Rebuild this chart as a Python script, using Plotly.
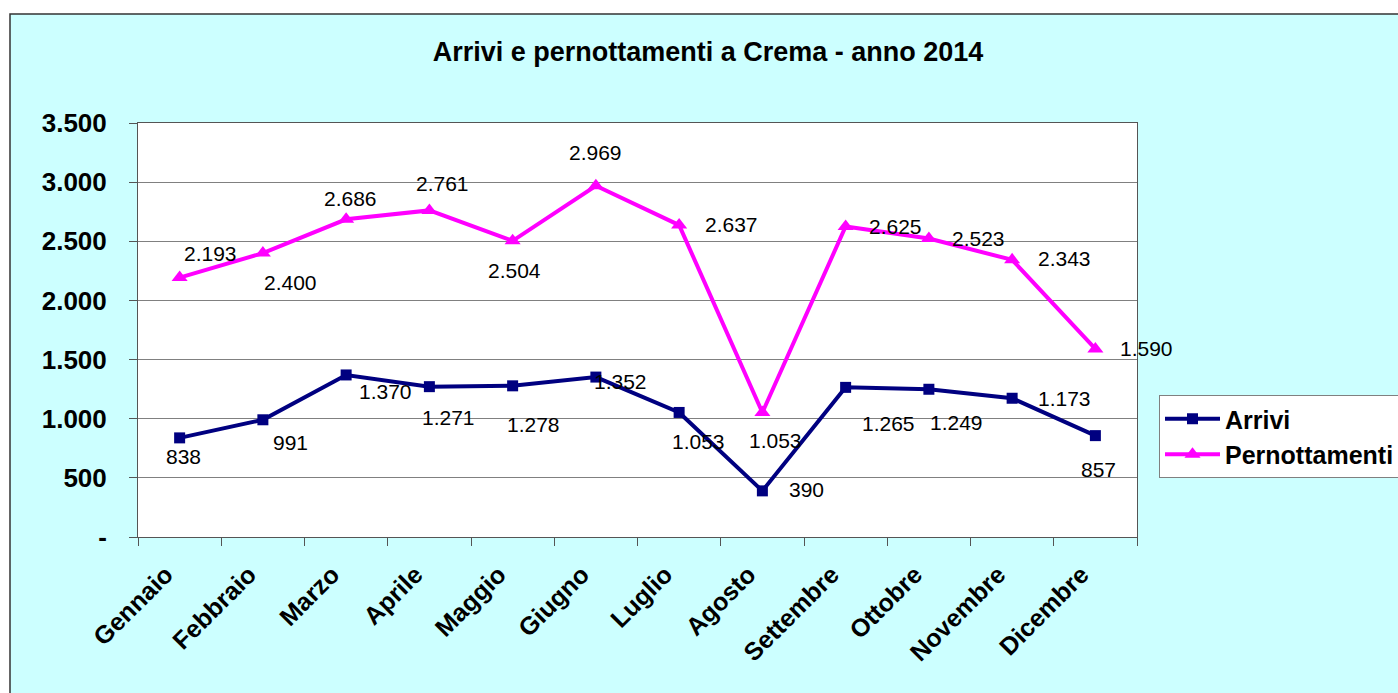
import plotly.graph_objects as go

months = ["Gennaio", "Febbraio", "Marzo", "Aprile", "Maggio", "Giugno",
          "Luglio", "Agosto", "Settembre", "Ottobre", "Novembre", "Dicembre"]
arrivi = [838, 991, 1370, 1271, 1278, 1352, 1053, 390, 1265, 1249, 1173, 857]
pernottamenti = [2193, 2400, 2686, 2761, 2504, 2969, 2637, 1053, 2625, 2523, 2343, 1590]
y_tickvals = [0, 500, 1000, 1500, 2000, 2500, 3000, 3500]
y_ticktext = ["-", "500", "1.000", "1.500", "2.000", "2.500", "3.000", "3.500"]

# label pixel offsets (style only)
arr_off = [(4, -19), (28, -23), (39, -17), (19, -31), (21, -39), (25, -4),
           (19, -29), (44, 1), (43, -36), (28, -33), (52, 0), (3, -34)]
per_off = [(31, 24), (28, -29), (4, 21), (13, 27), (2, -30), (0, 33),
           (52, 1), (13, -28), (50, 0), (50, 0), (52, 1), (51, 0)]

FONT = "Arial, Liberation Sans, sans-serif"

def fmt(v):
    return f"{v:,}".replace(",", ".")

fig = go.Figure()
fig.add_trace(go.Scatter(x=months, y=arrivi, name="<b>Arrivi</b>", mode="lines+markers",
                         line=dict(color="#000080", width=4),
                         marker=dict(symbol="square", size=11, color="#000080")))
fig.add_trace(go.Scatter(x=months, y=pernottamenti, name="<b>Pernottamenti</b>", mode="lines+markers",
                         line=dict(color="#FF00FF", width=4),
                         marker=dict(symbol="triangle-up", size=14, color="#FF00FF")))

annots = []
for series, offs in ((arrivi, arr_off), (pernottamenti, per_off)):
    for m, v, (dx, dy) in zip(months, series, offs):
        annots.append(dict(x=m, y=v, xref="x", yref="y", text=fmt(v), showarrow=False,
                           xshift=dx, yshift=dy, font=dict(family=FONT, size=21, color="black")))

L, R, T, B = 138, 1137, 123, 537
W, H = 1398, 693
pw, ph = R - L, B - T
def px(x): return (x - L) / pw
def py(y): return (B - y) / ph

fig.update_layout(
    width=W, height=H,
    margin=dict(l=L, r=W - R, t=T, b=H - B, autoexpand=False),
    paper_bgcolor="white",
    plot_bgcolor="rgba(0,0,0,0)",
    font=dict(family=FONT, color="black"),
    title=dict(text="<b>Arrivi e pernottamenti a Crema - anno 2014</b>",
               x=708 / W, xanchor="center", xref="container", y=1 - 52 / H, yanchor="middle",
               font=dict(size=27, family=FONT)),
    shapes=[
        dict(type="rect", xref="paper", yref="paper", x0=px(10), x1=px(1402), y0=py(14), y1=py(700),
             fillcolor="#CCFFFF", line=dict(color="#333333", width=1.5), layer="below"),
        dict(type="rect", xref="paper", yref="paper", x0=0, x1=1, y0=0, y1=1,
             fillcolor="white", line=dict(width=0), layer="below"),
    ],
    annotations=annots,
    showlegend=True,
    legend=dict(x=px(1159), y=py(395), xanchor="left", yanchor="top",
                bgcolor="white", bordercolor="#808080", borderwidth=1,
                font=dict(family=FONT, size=25, color="black"),
                tracegroupgap=0, itemwidth=55),
    xaxis=dict(type="category", range=[-0.5, len(months) - 0.5], autorange=False,
               showgrid=False, showline=True, mirror=True,
               linecolor="#555555", linewidth=1, ticks="outside", ticklen=8,
               tickcolor="#555555", tickson="boundaries", tickangle=-45,
               ticklabelstandoff=12, ticklabelshift=-14,
               tickfont=dict(family=FONT, size=25, color="black", weight="bold")),
    yaxis=dict(range=[0, 3500], tickvals=y_tickvals, ticktext=y_ticktext,
               showgrid=True, gridcolor="#808080", gridwidth=1,
               showline=True, mirror=True, linecolor="#555555", linewidth=1,
               ticks="outside", ticklen=8, tickcolor="#555555", zeroline=False,
               ticklabelstandoff=17,
               tickfont=dict(family=FONT, size=26, color="black", weight="bold")),
)
fig.write_html("out.html", config={"displayModeBar": False},
               post_script="document.body.style.margin='0px';")
